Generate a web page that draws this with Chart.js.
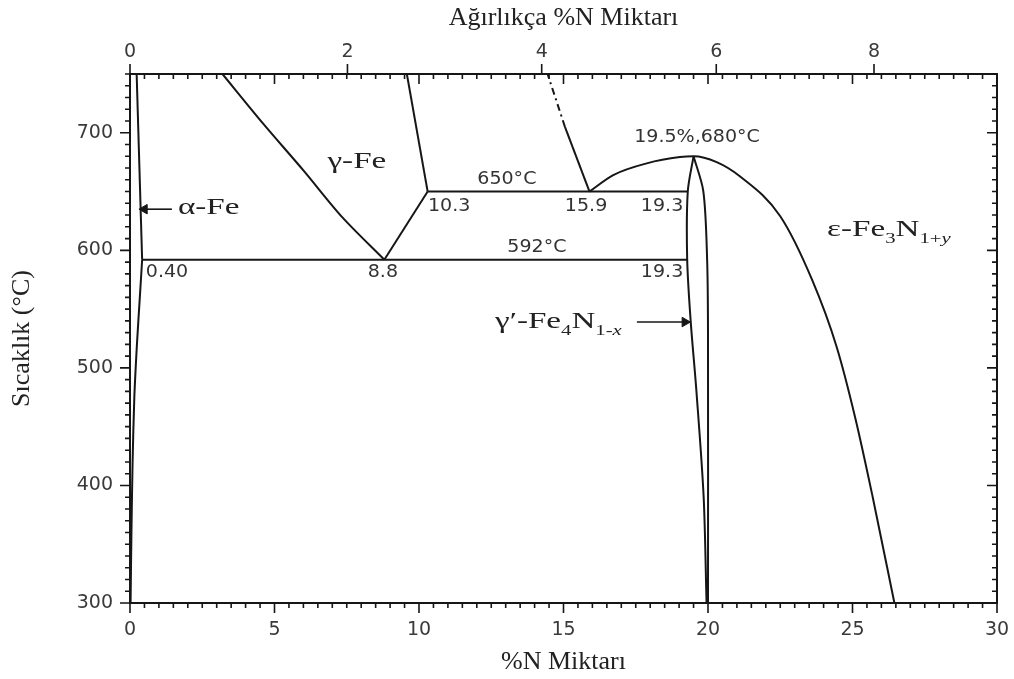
<!DOCTYPE html>
<html>
<head>
<meta charset="utf-8">
<script src="https://cdn.jsdelivr.net/npm/chart.js@4/dist/chart.umd.min.js"></script>
<style>
html, body { margin: 0; padding: 0; background: #fff; }
#wrap { width: 1014px; height: 679px; }
</style>
</head>
<body>
<div id="wrap"><canvas id="fen"></canvas></div>
<script>
// phase boundaries of Fe-N, points as [at% N, temperature °C]
var alphaUpper = [[0.23, 750], [0.42, 592]];
var alphaLower = [[0.42, 592], [0.34, 560], [0.24, 520], [0.15, 475], [0.09, 420], [0.05, 360], [0.02, 300]];
var gammaLeft = [[3.2, 750], [4.6, 708], [6.0, 668], [7.35, 628], [8.8, 592]];
var gammaLow = [[8.8, 592], [10.3, 650]];
var gammaRight = [[9.58, 750], [10.3, 650]];
var epsSolid = [[15.9, 650], [15.05, 705]];
var epsDash = [[15.05, 705], [14.45, 750]];
var iso650 = [[10.3, 650], [19.3, 650]];
var iso592 = [[0.42, 592], [19.28, 592]];
var epsDome = [[15.9, 650], [16.72, 664], [17.88, 674], [19.03, 679.3], [19.5, 680], [20.3, 675], [21.1, 663], [22.5, 629], [23.6, 575], [24.45, 518], [25.1, 457], [25.7, 390], [26.45, 300]];
var gpLeft = [[19.5, 680], [19.3, 650], [19.28, 592], [19.4, 540], [19.6, 480], [19.85, 390], [19.95, 300]];
var gpRight = [[19.5, 680], [19.84, 650], [19.97, 592], [20.0, 530], [20.0, 300]];
var alphaArrow = [[1.45, 635], [0.5, 635]];
var gpArrow = [[17.54, 539], [19.2, 539]];

// axis ticks
var atTicks = [0, 5, 10, 15, 20, 25, 30];
var tempTicks = [300, 400, 500, 600, 700];
var wtTicks = [0, 2, 4, 6, 8];

// labels: [kind, segments, at%, °C, align]
var notes = [
  ['phase', [['γ-Fe', '']], 7.85, 675.3, 'center'],
  ['phase', [['α-Fe', '']], 1.66, 636, 'left'],
  ['phase', [['ε-Fe', ''], ['3', 's'], ['N', ''], ['1+', 's'], ['y', 'si']], 24.12, 617.5, 'left'],
  ['phase', [['γ′-Fe', ''], ['4', 's'], ['N', ''], ['1-', 's'], ['x', 'si']], 12.63, 539.4, 'left'],
  ['num', [['10.3', '']], 10.31, 637, 'left'],
  ['num', [['650°C', '']], 13.04, 660, 'center'],
  ['num', [['15.9', '']], 15.78, 637, 'center'],
  ['num', [['19.3', '']], 18.41, 637, 'center'],
  ['num', [['592°C', '']], 14.08, 602.3, 'center'],
  ['num', [['0.40', '']], 1.28, 581, 'center'],
  ['num', [['8.8', '']], 8.75, 581, 'center'],
  ['num', [['19.3', '']], 18.41, 581, 'center'],
  ['num', [['19.5%,680°C', '']], 19.62, 695.7, 'center']
];

// weight % N -> atomic % N
function wtToAt(w) {
  var n = w / 14.007, fe = (100 - w) / 55.845;
  return 100 * n / (n + fe);
}

function pts(a) {
  return a.map(function (p) { return {x: p[0], y: p[1]}; });
}

var ink = '#161616';

function line(a, extra) {
  var d = {data: pts(a), showLine: true, borderColor: ink, borderWidth: 2, pointRadius: 0, tension: 0, fill: false};
  for (var k in extra) d[k] = extra[k];
  return d;
}

function arrow(a, rot) {
  return line(a, {pointRadius: [0, 5.5], pointStyle: 'triangle', pointRotation: rot,
    pointBackgroundColor: ink, pointBorderColor: ink, pointBorderWidth: 1, borderWidth: 1.6});
}

// horizontal axes: no label overhang padding, the frame is fixed
function noPad(s, h) {
  s.height = h;
  s.paddingLeft = 0;
  s.paddingRight = 0;
}

var tickMarks = {
  id: 'tickMarks',
  afterDraw: function (chart) {
    var ctx = chart.ctx, a = chart.chartArea, sx = chart.scales.x, sy = chart.scales.y;
    ctx.save();
    ctx.strokeStyle = ink;
    ctx.lineWidth = 1.6;
    ctx.beginPath();
    for (var i = 0; i <= 60; i++) {
      var v = i / 2, px = sx.getPixelForValue(v);
      var len = (i % 10 === 0) ? 10 : 5;
      ctx.moveTo(px, a.bottom); ctx.lineTo(px, a.bottom + len);
      ctx.moveTo(px, a.top); ctx.lineTo(px, a.top + len);
    }
    for (var t = 300; t <= 750; t += 10) {
      var py = sy.getPixelForValue(t);
      var l2 = (t % 100 === 0) ? 10 : 5;
      ctx.moveTo(a.left, py); ctx.lineTo(a.left - l2, py);
      ctx.moveTo(a.right, py); ctx.lineTo(a.right - l2, py);
    }
    wtTicks.forEach(function (w) {
      var px = sx.getPixelForValue(wtToAt(w));
      ctx.moveTo(px, a.top); ctx.lineTo(px, a.top - 10);
    });
    ctx.stroke();
    ctx.restore();
  }
};

var textNotes = {
  id: 'textNotes',
  afterDatasetsDraw: function (chart) {
    var ctx = chart.ctx, sx = chart.scales.x, sy = chart.scales.y;
    notes.forEach(function (n) {
      var phase = n[0] === 'phase';
      var size = phase ? 24 : 17;
      var stretch = phase ? 1.38 : 1.12;
      var fam = phase ? '"Liberation Serif", serif' : '"DejaVu Sans", sans-serif';
      function fontOf(mode) {
        var s = mode ? Math.round(size * 0.62) : size;
        return (mode === 'si' ? 'italic ' : '') + s + 'px ' + fam;
      }
      ctx.save();
      var w = 0;
      n[1].forEach(function (seg) { ctx.font = fontOf(seg[1]); w += ctx.measureText(seg[0]).width; });
      var px = sx.getPixelForValue(n[2]), py = sy.getPixelForValue(n[3]);
      var x0 = n[4] === 'center' ? px - w * stretch / 2 : px;
      ctx.translate(x0, py);
      ctx.scale(stretch, 1);
      ctx.fillStyle = phase ? '#222' : '#333';
      ctx.textBaseline = 'middle';
      ctx.textAlign = 'left';
      var cx = 0;
      n[1].forEach(function (seg) {
        ctx.font = fontOf(seg[1]);
        ctx.fillText(seg[0], cx, seg[1] ? size * 0.38 : 0);
        cx += ctx.measureText(seg[0]).width;
      });
      ctx.restore();
    });
  }
};

var tickFont = {family: '"DejaVu Sans", sans-serif', size: 19};
var titleFont = {family: '"Liberation Serif", serif', size: 26};

var chart = new Chart(document.getElementById('fen'), {
  type: 'scatter',
  data: {
    datasets: [
      line(alphaUpper),
      line(alphaLower, {tension: 0.3}),
      line(gammaLeft, {tension: 0.3}),
      line(gammaLow),
      line(gammaRight),
      line(epsSolid),
      line(epsDash, {borderDash: [7, 4, 2, 4]}),
      line(iso650),
      line(iso592),
      line(epsDome, {cubicInterpolationMode: 'monotone'}),
      line(gpLeft, {tension: 0.3}),
      line(gpRight, {tension: 0.3}),
      arrow(alphaArrow, 270),
      arrow(gpArrow, 90)
    ]
  },
  options: {
    responsive: true,
    maintainAspectRatio: false,
    animation: false,
    layout: {padding: 0},
    plugins: {legend: {display: false}, tooltip: {enabled: false}},
    scales: {
      x: {
        type: 'linear', position: 'bottom', min: 0, max: 30,
        afterBuildTicks: function (s) { s.ticks = atTicks.map(function (v) { return {value: v}; }); },
        afterFit: function (s) { noPad(s, 76); },
        grid: {display: false, drawTicks: false},
        border: {display: true, color: ink, width: 2},
        ticks: {padding: 16, color: '#3a3a3a', font: tickFont, autoSkip: false, maxRotation: 0},
        title: {display: true, text: '%N Miktarı', color: '#222', font: titleFont, padding: {top: 0, bottom: 1}}
      },
      x2: {
        type: 'linear', axis: 'x', position: 'top', min: 0, max: 30,
        afterBuildTicks: function (s) { s.ticks = wtTicks.map(function (w) { return {value: wtToAt(w)}; }); },
        afterFit: function (s) { noPad(s, 74); },
        grid: {display: false, drawTicks: false},
        border: {display: true, color: ink, width: 2},
        ticks: {padding: 11, color: '#3a3a3a', font: tickFont, autoSkip: false, maxRotation: 0,
          callback: function (v, i) { return String(wtTicks[i]); }},
        title: {display: true, text: 'Ağırlıkça %N Miktarı', color: '#222', font: titleFont, padding: {top: 3, bottom: 0}}
      },
      y: {
        type: 'linear', position: 'left', min: 300, max: 750,
        afterBuildTicks: function (s) { s.ticks = tempTicks.map(function (v) { return {value: v}; }); },
        afterFit: function (s) { s.width = 130; },
        grid: {display: false, drawTicks: false},
        border: {display: true, color: ink, width: 2},
        ticks: {padding: 17, color: '#3a3a3a', font: tickFont},
        title: {display: true, text: 'Sıcaklık (°C)', color: '#222', font: titleFont, padding: {top: 7, bottom: 0}}
      },
      y2: {
        type: 'linear', axis: 'y', position: 'right', min: 300, max: 750,
        afterFit: function (s) { s.width = 17; },
        grid: {display: false, drawTicks: false},
        border: {display: true, color: ink, width: 2},
        ticks: {display: false}
      }
    }
  },
  plugins: [tickMarks, textNotes]
});
</script>
</body>
</html>
